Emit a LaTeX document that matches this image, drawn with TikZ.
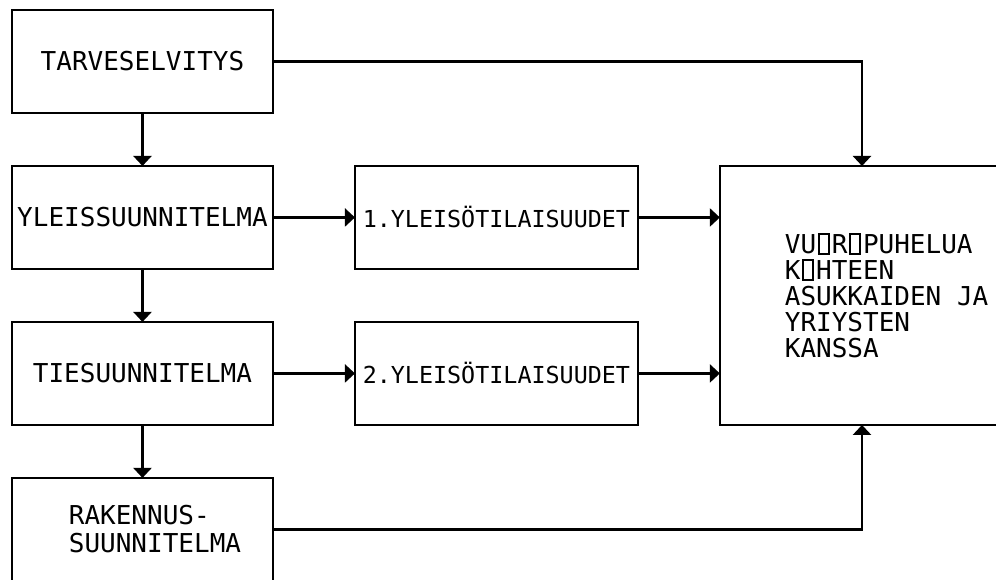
\documentclass[tikz,border=0pt]{standalone}
\usepackage{fontspec}
\setmonofont{DejaVu Sans Mono}
\usetikzlibrary{arrows.meta, positioning}
% puuttuva merkki (kuten kuvassa)
\newcommand{\puuttuva}{\hbox to 0.6em{\hss\setlength\fboxsep{0pt}\setlength\fboxrule{1.2pt}\fbox{\rule{0.3em}{0pt}\rule{0pt}{0.68em}}\hss}}

\begin{document}
\begin{tikzpicture}[x=0.02cm, y=-0.02cm, node distance=1.06cm and 1.64cm, line width=1.3pt]
\tikzstyle{vaihe} = [rectangle, draw, minimum width=5.22cm, minimum height=2.06cm, inner sep=0pt, outer sep=0pt, align=center, font=\ttfamily\fontsize{14.8}{15.9}\selectfont]
\tikzstyle{tilaisuus} = [vaihe, minimum width=5.66cm, font=\ttfamily\fontsize{13.3}{15}\selectfont]
\tikzstyle{line} = [draw, -{Triangle[width=0.36cm, length=0.2cm]}]
\path [use as bounding box, clip] (0,0) rectangle (996,579);
\node [vaihe, anchor=north west] (tarve) at (12,10) {TARVESELVITYS};
\node [vaihe, below=of tarve] (yleis) {YLEISSUUNNITELMA};
\node [vaihe, below=of yleis] (ties) {TIESUUNNITELMA};
\node [vaihe, below=of ties, align=left] (raken) {\hspace*{0.5cm}RAKENNUS-\\\hspace*{0.5cm}SUUNNITELMA};
\node [tilaisuus, right=of yleis] (ylei1) {1.YLEISÖTILAISUUDET};
\node [tilaisuus, right=of ties] (ylei2) {2.YLEISÖTILAISUUDET};
\node [rectangle, draw, minimum width=5.66cm, minimum height=5.18cm, outer sep=0pt, anchor=north west] (vuoro) at ([xshift=1.64cm]ylei1.north east) {};
\node [anchor=west, align=left, xshift=1.16cm, font=\ttfamily\fontsize{14.8}{14.8}\selectfont] (vuoroteksti) at (vuoro.west) {VU\puuttuva R\puuttuva PUHELUA\\K\puuttuva HTEEN\\ASUKKAIDEN JA\\YRIYSTEN\\KANSSA};
\coordinate (kanava) at (862,0);
\path [line] (tarve) -- (yleis);
\path [line] (yleis) -- (ties);
\path [line] (ties) -- (raken);
\path [line] (yleis) -- (ylei1);
\path [line] (ties) -- (ylei2);
\path [line] (ylei1) -- (ylei1 -| vuoro.west);
\path [line] (ylei2) -- (ylei2 -| vuoro.west);
\path [line] (tarve.east) -| (vuoro.north -| kanava);
\path [line] (raken.east) -| (vuoro.south -| kanava);
\end{tikzpicture}
\end{document}
